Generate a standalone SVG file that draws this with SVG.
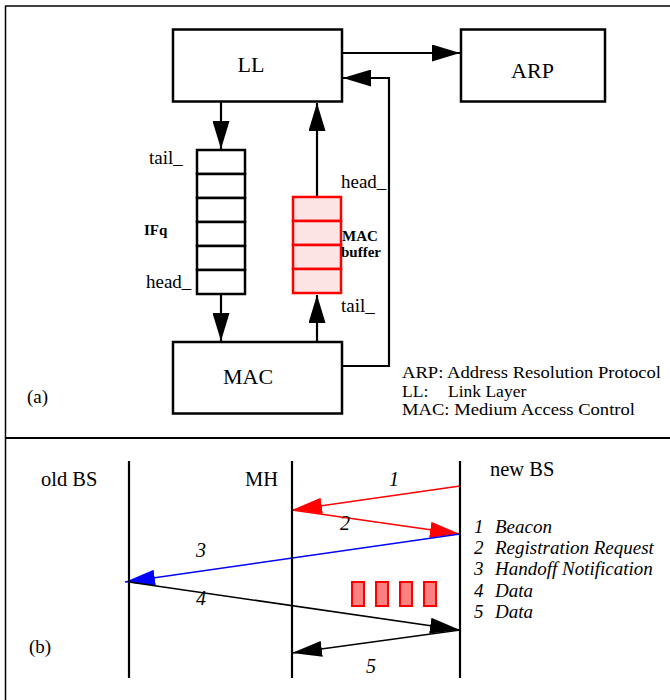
<svg xmlns="http://www.w3.org/2000/svg" width="670" height="700" viewBox="0 0 670 700">
<style>
text{font-family:"Liberation Serif","Times New Roman",serif;fill:#000}
.box{fill:#fff;stroke:#000;stroke-width:2.5}
.cell{fill:#fff;stroke:#000;stroke-width:2.5}
.rcell{fill:#fde4e4;stroke:#f00;stroke-width:2.5}
.ln{fill:none;stroke:#000;stroke-width:2.2}
.life{stroke:#000;stroke-width:2.2}
.msg{fill:none;stroke-width:1.5}
.big{font-size:22px}
.lbl{font-size:19px}
.bold{font-size:15px;font-weight:bold}
.leg{font-size:17.5px}
.it{font-size:20px;font-style:italic}
.itl{font-size:19px;font-style:italic}
.hd{font-size:20.5px}
.pkt{fill:#ff8080;stroke:#f00;stroke-width:2}
</style>
<defs>
<marker id="ah" viewBox="0 0 28 17" markerWidth="28" markerHeight="17" refX="28" refY="8.5" orient="auto" markerUnits="userSpaceOnUse"><path d="M0,0 L28,8.5 L0,17 z" fill="#000"/></marker>
<marker id="ahk" viewBox="0 0 30 16" markerWidth="30" markerHeight="16" refX="30" refY="8" orient="auto" markerUnits="userSpaceOnUse"><path d="M0,0 L30,8 L0,16 z" fill="#000"/></marker>
<marker id="ahr" viewBox="0 0 30 16" markerWidth="30" markerHeight="16" refX="30" refY="8" orient="auto" markerUnits="userSpaceOnUse"><path d="M0,0 L30,8 L0,16 z" fill="#f00"/></marker>
<marker id="ahb" viewBox="0 0 30 16" markerWidth="30" markerHeight="16" refX="30" refY="8" orient="auto" markerUnits="userSpaceOnUse"><path d="M0,0 L30,8 L0,16 z" fill="#00f"/></marker>
</defs>
<rect width="670" height="700" fill="#fff"/>
<g id="frame">
<line x1="5" y1="6" x2="670" y2="6" stroke="#000" stroke-width="1.5"/>
<line x1="5.5" y1="6" x2="5.5" y2="700" stroke="#000" stroke-width="1.5"/>
<line x1="5" y1="438" x2="670" y2="438" stroke="#000" stroke-width="2"/>
</g>
<g id="connectors">
<line class="ln" x1="342" y1="53" x2="460" y2="53" marker-end="url(#ah)"/>
<polyline class="ln" points="342,366 389,366 389,78 343,78" marker-end="url(#ah)"/>
<line class="ln" x1="221" y1="102" x2="221" y2="149" marker-end="url(#ah)"/>
<line class="ln" x1="221" y1="294" x2="221" y2="341" marker-end="url(#ah)"/>
<line class="ln" x1="317" y1="197" x2="317" y2="103" marker-end="url(#ah)"/>
<line class="ln" x1="317" y1="341" x2="317" y2="295" marker-end="url(#ah)"/>
<line class="msg" stroke="#f00" x1="460" y1="486" x2="292" y2="510" marker-end="url(#ahr)"/>
<line class="msg" stroke="#f00" x1="292" y1="510" x2="460" y2="534" marker-end="url(#ahr)"/>
<line class="msg" stroke="#00f" x1="460" y1="534" x2="125" y2="582" marker-end="url(#ahb)"/>
<line class="msg" stroke="#000" x1="129" y1="582" x2="460" y2="630" marker-end="url(#ahk)"/>
<line class="msg" stroke="#000" x1="460" y1="630" x2="292" y2="653" marker-end="url(#ahk)"/>
</g>
<g id="LL"><rect class="box" x="173" y="29.5" width="169" height="72"/><text class="big" x="251" y="72" text-anchor="middle">LL</text></g>
<g id="ARP"><rect class="box" x="461" y="29.5" width="144" height="72"/><text class="big" x="532.5" y="78" text-anchor="middle">ARP</text></g>
<g id="MAC"><rect class="box" x="173" y="342" width="169" height="71.5"/><text class="big" x="248" y="384" text-anchor="middle">MAC</text></g>
<g id="IFq">
<rect class="cell" x="197" y="150" width="48" height="24"/>
<rect class="cell" x="197" y="174" width="48" height="24"/>
<rect class="cell" x="197" y="198" width="48" height="24"/>
<rect class="cell" x="197" y="222" width="48" height="24"/>
<rect class="cell" x="197" y="246" width="48" height="24"/>
<rect class="cell" x="197" y="270" width="48" height="24"/>
<text class="lbl" x="149" y="164">tail_</text>
<text class="lbl" x="146" y="288">head_</text>
<text class="bold" x="144" y="235" font-size="16">IFq</text>
</g>
<g id="MACbuffer">
<rect class="rcell" x="293" y="197" width="48" height="24"/>
<rect class="rcell" x="293" y="221" width="48" height="24"/>
<rect class="rcell" x="293" y="245" width="48" height="24"/>
<rect class="rcell" x="293" y="269" width="48" height="24"/>
<text class="lbl" x="341" y="188">head_</text>
<text class="bold" x="342" y="241">MAC</text>
<text class="bold" x="341" y="257">buffer</text>
<text class="lbl" x="341" y="312">tail_</text>
</g>
<g id="legendA">
<text class="lbl" x="27" y="403">(a)</text>
<text class="leg" x="402" y="378" textLength="259" lengthAdjust="spacingAndGlyphs">ARP: Address Resolution Protocol</text>
<text class="leg" y="396.5"><tspan x="402">LL:</tspan><tspan x="448">Link Layer</tspan></text>
<text class="leg" x="402" y="415" textLength="233" lengthAdjust="spacingAndGlyphs">MAC: Medium Access Control</text>
</g>
<g id="oldBS"><line class="life" x1="129" y1="461" x2="129" y2="678"/><text class="hd" x="41" y="486">old BS</text></g>
<g id="MH"><line class="life" x1="292" y1="461" x2="292" y2="678"/><text class="hd" x="245" y="486">MH</text></g>
<g id="newBS"><line class="life" x1="460" y1="461" x2="460" y2="678"/><text class="hd" x="490" y="476">new BS</text></g>
<g id="msgLabels">
<text class="it" x="389" y="486">1</text>
<text class="it" x="340" y="530">2</text>
<text class="it" x="196" y="557">3</text>
<text class="it" x="196" y="605">4</text>
<text class="it" x="366" y="673">5</text>
</g>
<g id="packets">
<rect class="pkt" x="352" y="582" width="12" height="24"/>
<rect class="pkt" x="376" y="582" width="12" height="24"/>
<rect class="pkt" x="400" y="582" width="12" height="24"/>
<rect class="pkt" x="424" y="582" width="12" height="24"/>
</g>
<g id="legendB">
<text class="lbl" x="29" y="653">(b)</text>
<text class="itl" y="533"><tspan x="474">1</tspan><tspan x="495">Beacon</tspan></text>
<text class="itl" y="554"><tspan x="474">2</tspan><tspan x="495">Registration Request</tspan></text>
<text class="itl" y="575"><tspan x="474">3</tspan><tspan x="495">Handoff Notification</tspan></text>
<text class="itl" y="597"><tspan x="474">4</tspan><tspan x="495">Data</tspan></text>
<text class="itl" y="618"><tspan x="474">5</tspan><tspan x="495">Data</tspan></text>
</g>
</svg>
